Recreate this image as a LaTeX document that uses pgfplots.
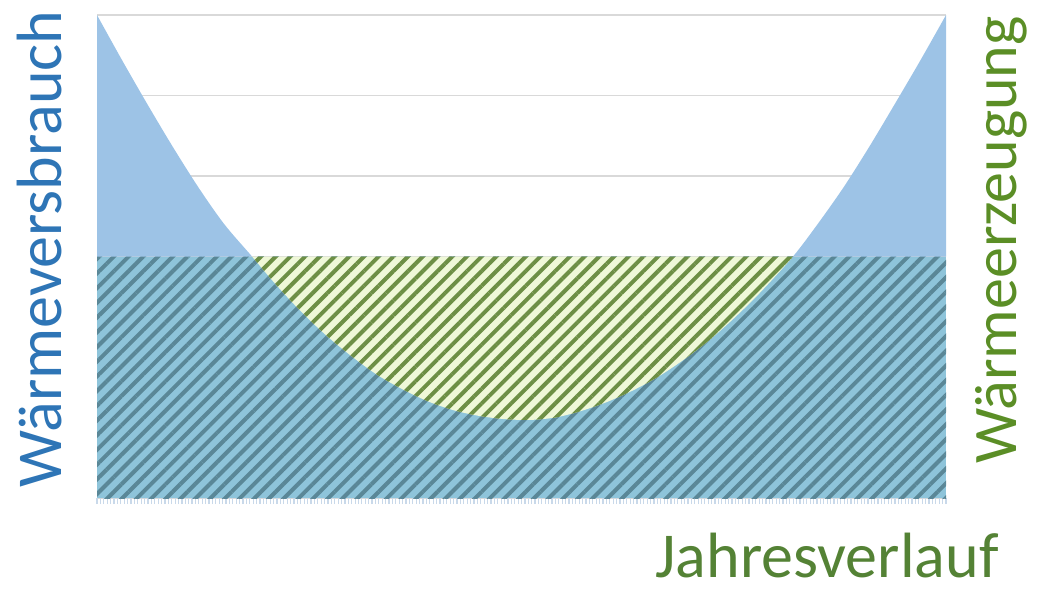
\documentclass[border=0pt]{standalone}
\usepackage{pgfplots}
\pgfplotsset{compat=1.18}
\usepackage{pgfplotstable}
\usepgfplotslibrary{fillbetween}
\usepackage{fontspec}
\setmainfont{Carlito}
\usetikzlibrary{patterns.meta}

\definecolor{bluefill}{HTML}{9DC3E6}
\definecolor{overlapfill}{HTML}{8EC4DA}
\definecolor{greenbg}{HTML}{EFF8D8}
\definecolor{olivelines}{HTML}{6D8F45}
\definecolor{slatelines}{HTML}{5A8797}
\definecolor{labelblue}{HTML}{2E75B6}
\definecolor{labelgreen}{HTML}{5B8E26}
\definecolor{labelgreenb}{HTML}{548235}
\definecolor{gridgray}{HTML}{D9D9D9}
\definecolor{tickcol}{HTML}{C9D9EA}

% heat demand over the year
\pgfplotstableread{
x v
0 6.00
3 5.43
6 4.88
9 4.35
12 3.85
15 3.40
18.26 3.00
21 2.66
24 2.32
27 2.02
30 1.76
33 1.53
36 1.35
39 1.20
42 1.09
45 1.02
48 0.98
51 0.97
54 1.00
57 1.08
60 1.19
63 1.33
66 1.50
69 1.71
72 1.95
75 2.23
78 2.54
81.98 3.00
85 3.42
88 3.87
91 4.37
94 4.90
97 5.44
100 6.00
}\demand

% heat production (constant)
\pgfplotstableread{
x v
0 3
100 3
}\production

% base line
\pgfplotstableread{
x v
0 0
100 0
}\baseline

\tikzset{hatch/.style={pattern={Lines[angle=45, distance=5.2pt, line width=2pt]}, pattern color=#1}}

\begin{document}
\begin{tikzpicture}
\begin{axis}[
  scale only axis,
  width=424.5pt, height=241.5pt,
  xmin=0, xmax=100, ymin=0, ymax=6,
  axis line style={draw=none},
  ytick={0,1,...,6}, yticklabels={},
  ymajorgrids, grid style={gridgray, line width=0.8pt},
  ytick style={draw=none},
  xtick={0,0.4,...,100}, xticklabels={},
  xtick pos=bottom, tick align=outside,
  major tick length=3pt,
  xtick style={tickcol, line width=0.6pt},
  clip=false,
]
\addplot[draw=none, name path=demand, smooth, tension=0.5] table {\demand};
\addplot[draw=none, name path=prod] table {\production};
\addplot[draw=none, name path=base] table {\baseline};
% demand covered by production
\addplot[fill=overlapfill, postaction={hatch=slatelines}] fill between[of=prod and base];
% demand above production / production above demand
\addplot[draw=none] fill between[of=demand and prod, split,
  every segment no 0/.style={fill=bluefill},
  every segment no 1/.style={fill=greenbg, postaction={hatch=olivelines}},
  every segment no 2/.style={fill=bluefill}];
\end{axis}
\node[rotate=90, anchor=base, inner sep=0pt, font=\fontsize{32}{32}\selectfont, text=labelblue] at (-17.5pt,124.5pt) {Wärmeversbrauch};
\node[rotate=90, anchor=base, inner sep=0pt, font=\fontsize{31}{31}\selectfont, text=labelgreen] at (459.5pt,129pt) {Wärmeerzeugung};
\node[anchor=base, inner sep=0pt, font=\fontsize{32}{32}\selectfont, text=labelgreenb] at (365pt,-39.5pt) {Jahresverlauf};
\path (-48.5pt,-46.5pt) rectangle (470.5pt,249pt);
\end{tikzpicture}
\end{document}
